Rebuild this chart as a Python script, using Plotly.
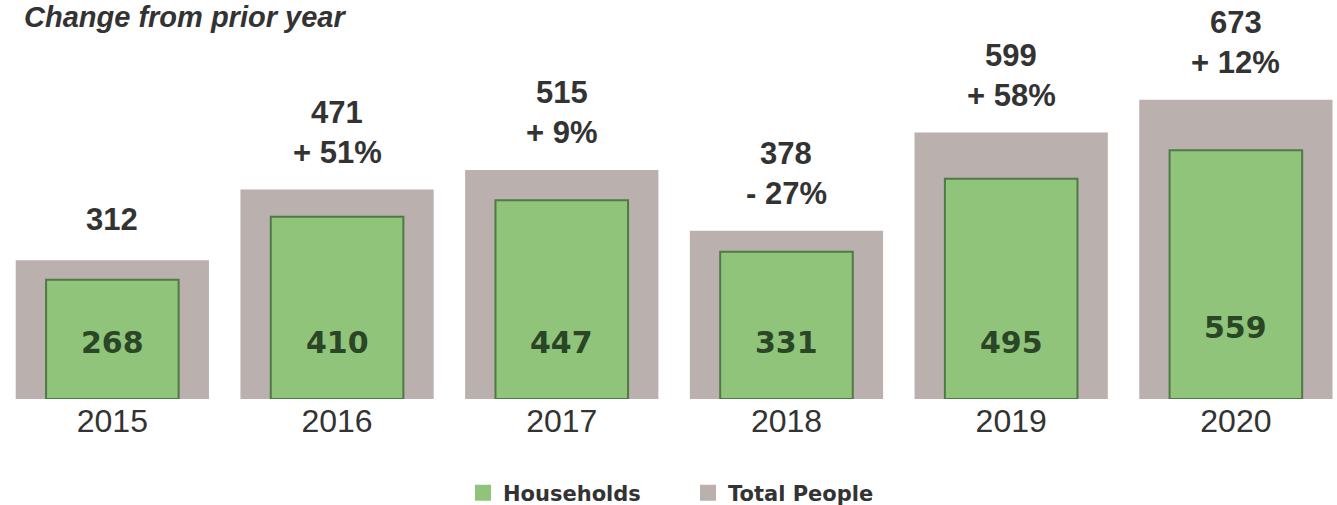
import plotly.graph_objects as go

years = ["2015", "2016", "2017", "2018", "2019", "2020"]
households = [268, 410, 447, 331, 495, 559]
total_people = [312, 471, 515, 378, 599, 673]
pct_change = ["", "+ 51%", "+ 9%", "- 27%", "+ 58%", "+ 12%"]

TOTAL_COLOR = "#bab0ad"
HH_COLOR = "#8fc47a"
HH_EDGE = "#4f7a45"
TEXT = "#333333"

fig = go.Figure()
fig.add_trace(go.Bar(
    x=years, y=total_people, name="Total People", width=0.86,
    marker=dict(color=TOTAL_COLOR, line=dict(width=0)),
    showlegend=False, hoverinfo="x+y",
))
fig.add_trace(go.Bar(
    x=years, y=households, name="Households", width=0.59,
    marker=dict(color=HH_COLOR, line=dict(color=HH_EDGE, width=2)),
    showlegend=False, hoverinfo="x+y",
))
# legend entries with larger square swatches
fig.add_trace(go.Scatter(
    x=[None], y=[None], mode="markers", name="Households",
    marker=dict(symbol="square", size=16, color=HH_COLOR, line=dict(width=0)),
    legendrank=1,
))
fig.add_trace(go.Scatter(
    x=[None], y=[None], mode="markers", name="Total People",
    marker=dict(symbol="square", size=16, color=TOTAL_COLOR, line=dict(width=0)),
    legendrank=2,
))

label_font = dict(family="Liberation Sans", size=31, color=TEXT, weight="bold")
annotations = []
for i, (tot, pc) in enumerate(zip(total_people, pct_change)):
    if pc:
        annotations.append(dict(
            x=i, y=tot, xref="x", yref="y", text=f"{tot}", showarrow=False,
            yanchor="middle", yshift=77, font=label_font,
        ))
        annotations.append(dict(
            x=i, y=tot, xref="x", yref="y", text=pc, showarrow=False,
            yanchor="middle", yshift=37, font=label_font,
        ))
    else:
        annotations.append(dict(
            x=i, y=tot, xref="x", yref="y", text=f"{tot}", showarrow=False,
            yanchor="middle", yshift=41, font=label_font,
        ))
inner_shift = {5: 15}
for i, hh in enumerate(households):
    annotations.append(dict(
        x=i, y=128, xref="x", yref="y", text=f"{hh}", showarrow=False,
        yanchor="middle", yshift=inner_shift.get(i, 0),
        font=dict(family="DejaVu Sans", size=30, color="#2a4626", weight="bold"),
    ))

fig.update_layout(
    width=1337, height=505,
    margin=dict(l=0, r=0, t=0, b=106),
    paper_bgcolor="white", plot_bgcolor="white",
    barmode="overlay",
    title=dict(
        text="<i>Change from prior year</i>",
        xref="container", x=24 / 1337, xanchor="left",
        yref="container", y=1 - 17 / 505, yanchor="middle",
        font=dict(family="Liberation Sans", size=29, color=TEXT, weight="bold"),
    ),
    xaxis=dict(
        type="category", range=[-0.5, 5.45],
        showgrid=False, zeroline=False, showline=False, ticks="",
        tickfont=dict(family="Liberation Sans", size=32, color=TEXT),
    ),
    yaxis=dict(range=[0, 897], visible=False, showgrid=False),
    legend=dict(
        orientation="h", xref="container", yref="container",
        x=463 / 1337, xanchor="left", y=1 - 493 / 505, yanchor="middle",
        font=dict(family="DejaVu Sans", size=21, color=TEXT, weight="bold"),
        traceorder="normal", itemsizing="trace",
        entrywidth=180, entrywidthmode="pixels",
    ),
    annotations=annotations,
    showlegend=True,
)

fig.write_html("out.html", config={"displayModeBar": False},
               post_script="document.body.style.margin='0';")
